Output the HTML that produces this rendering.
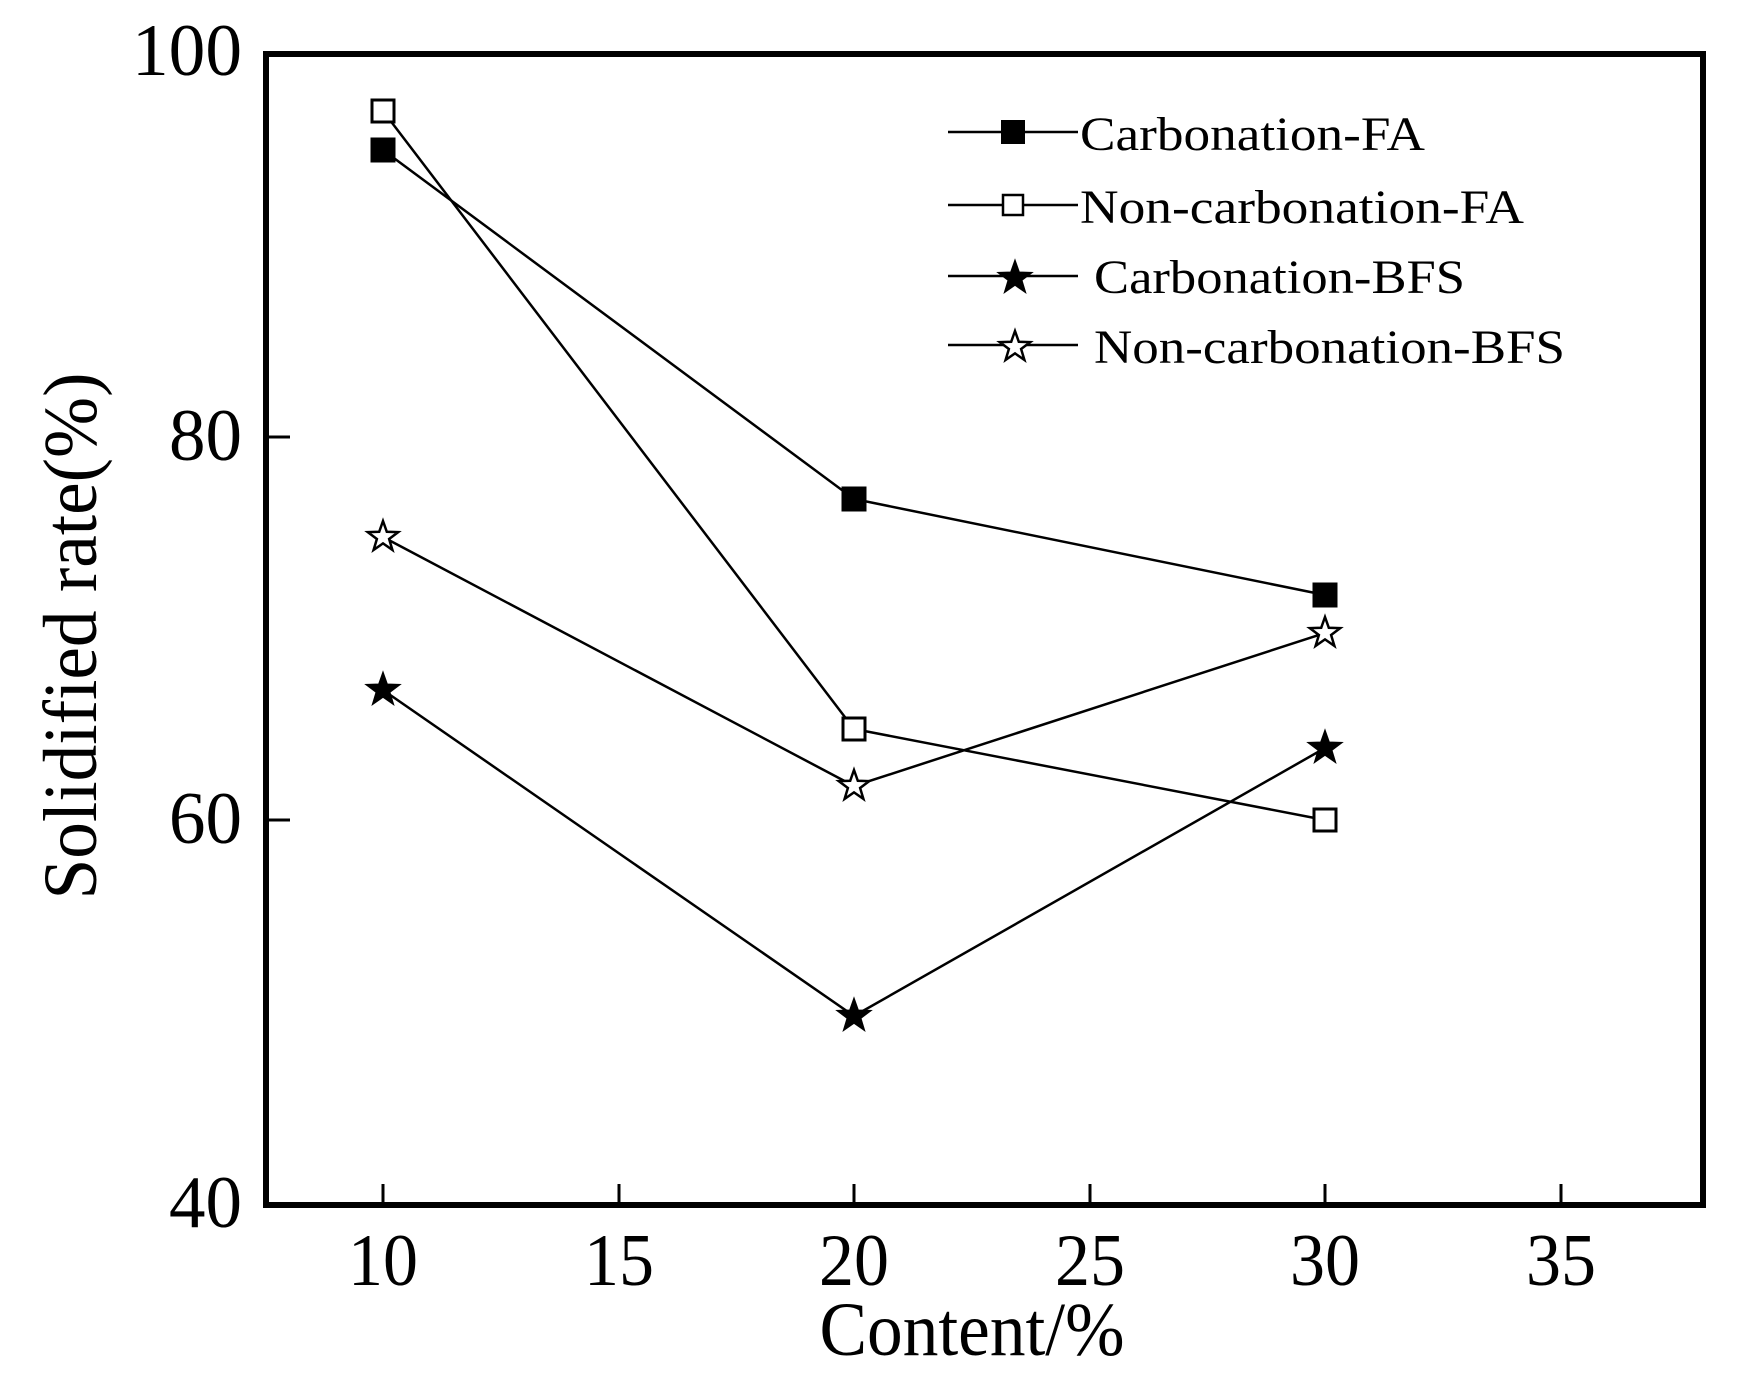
<!DOCTYPE html>
<html><head><meta charset="utf-8"><style>html,body{margin:0;padding:0;background:#fff}</style></head>
<body>
<svg width="1742" height="1382" viewBox="0 0 1742 1382" xmlns="http://www.w3.org/2000/svg" font-family="Liberation Serif, serif">
<defs>
<polygon id="star" points="0,-16 3.8,-5.2 15.2,-4.9 6.1,2 9.4,12.9 0,6.4 -9.4,12.9 -6.1,2 -15.2,-4.9 -3.8,-5.2"/>
</defs>
<rect x="266" y="54" width="1437" height="1151" fill="none" stroke="#000" stroke-width="6"/>
<g stroke="#000" stroke-width="3">
<line x1="383" y1="1205" x2="383" y2="1184"/>
<line x1="619" y1="1205" x2="619" y2="1184"/>
<line x1="854" y1="1205" x2="854" y2="1184"/>
<line x1="1090" y1="1205" x2="1090" y2="1184"/>
<line x1="1325" y1="1205" x2="1325" y2="1184"/>
<line x1="1561" y1="1205" x2="1561" y2="1184"/>
<line x1="266" y1="437" x2="290" y2="437"/>
<line x1="266" y1="820" x2="290" y2="820"/>
</g>
<g font-size="74" text-anchor="end">
<text x="242" y="75" textLength="110" lengthAdjust="spacingAndGlyphs">100</text>
<text x="242" y="460" textLength="73" lengthAdjust="spacingAndGlyphs">80</text>
<text x="242" y="843" textLength="73" lengthAdjust="spacingAndGlyphs">60</text>
<text x="242" y="1227" textLength="73" lengthAdjust="spacingAndGlyphs">40</text>
</g>
<g font-size="74" text-anchor="middle">
<text x="383" y="1285" textLength="70" lengthAdjust="spacingAndGlyphs">10</text>
<text x="619" y="1285" textLength="70" lengthAdjust="spacingAndGlyphs">15</text>
<text x="854" y="1285" textLength="70" lengthAdjust="spacingAndGlyphs">20</text>
<text x="1090" y="1285" textLength="70" lengthAdjust="spacingAndGlyphs">25</text>
<text x="1325" y="1285" textLength="70" lengthAdjust="spacingAndGlyphs">30</text>
<text x="1561" y="1285" textLength="70" lengthAdjust="spacingAndGlyphs">35</text>
<text x="972" y="1355" font-size="76" textLength="305" lengthAdjust="spacingAndGlyphs">Content/%</text>
</g>
<text transform="translate(96,636) rotate(-90)" font-size="76" text-anchor="middle" textLength="527" lengthAdjust="spacingAndGlyphs">Solidified rate(%)</text>
<g fill="none" stroke="#000" stroke-width="2.5">
<polyline points="383,150 854,499 1325,595"/>
<polyline points="383,111 854,729 1325,820"/>
<polyline points="383,690 854,1016 1325,748"/>
<polyline points="383,537 854,786 1325,633"/>
</g>
<g stroke="#000" stroke-width="3">
<rect x="372" y="139" width="22" height="22" fill="#000"/>
<rect x="843" y="488" width="22" height="22" fill="#000"/>
<rect x="1314" y="584" width="22" height="22" fill="#000"/>
<rect x="372" y="100" width="22" height="22" fill="#fff"/>
<rect x="843" y="718" width="22" height="22" fill="#fff"/>
<rect x="1314" y="809" width="22" height="22" fill="#fff"/>
</g>
<g stroke="#000" stroke-width="2.5">
<use href="#star" x="383" y="690" fill="#000"/>
<use href="#star" x="854" y="1016" fill="#000"/>
<use href="#star" x="1325" y="748" fill="#000"/>
<use href="#star" x="383" y="537" fill="#fff"/>
<use href="#star" x="854" y="786" fill="#fff"/>
<use href="#star" x="1325" y="633" fill="#fff"/>
</g>
<g stroke="#000" stroke-width="2.5">
<line x1="948" y1="132" x2="1078" y2="132"/>
<line x1="948" y1="205" x2="1078" y2="205"/>
<line x1="948" y1="276" x2="1078" y2="276"/>
<line x1="948" y1="345" x2="1078" y2="345"/>
<rect x="1002" y="121" width="22" height="22" fill="#000" stroke-width="2"/>
<rect x="1003" y="195" width="20" height="20" fill="#fff" stroke-width="2.5"/>
<use href="#star" x="1015" y="278" fill="#000"/>
<use href="#star" x="1015" y="347" fill="#fff"/>
</g>
<g font-size="48">
<text x="1080" y="150" textLength="345" lengthAdjust="spacingAndGlyphs">Carbonation-FA</text>
<text x="1080" y="223" textLength="444" lengthAdjust="spacingAndGlyphs">Non-carbonation-FA</text>
<text x="1094" y="293" textLength="371" lengthAdjust="spacingAndGlyphs">Carbonation-BFS</text>
<text x="1094" y="363" textLength="471" lengthAdjust="spacingAndGlyphs">Non-carbonation-BFS</text>
</g>
</svg>
</body></html>
